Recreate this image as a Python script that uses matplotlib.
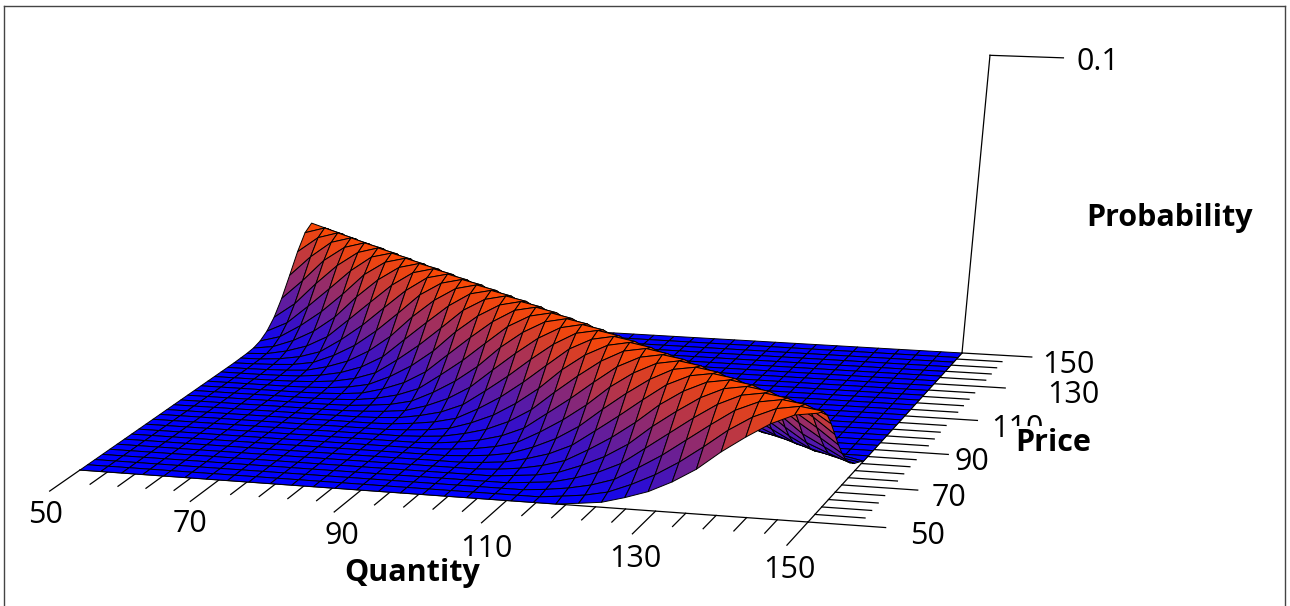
import matplotlib
matplotlib.use('Agg')
import matplotlib.pyplot as plt
import numpy as np
from matplotlib.colors import LinearSegmentedColormap

# mesh of the surface
quantity = np.linspace(50, 150, 34)
price = np.linspace(50, 150, 34)

# cross sections of the ridge (units of 0.0001), read at 11 stations along it,
# one column per unit away from the line quantity + price = 200
peak = 325
cross_sections = [
    [323, 316, 305, 290, 272, 252, 230, 206, 183, 160, 138, 117, 98, 81, 66, 53, 42, 33, 25, 19, 14, 11, 8, 5, 4, 3, 2, 1, 1, 1],
    [323, 317, 306, 292, 276, 257, 236, 214, 191, 169, 147, 127, 108, 90, 75, 61, 49, 39, 31, 24, 18, 14, 11, 7, 6, 4, 3, 2, 1, 1],
    [323, 317, 308, 295, 280, 262, 242, 221, 200, 178, 157, 137, 118, 100, 84, 70, 57, 46, 37, 29, 23, 18, 14, 10, 8, 6, 4, 3, 2, 1],
    [323, 318, 309, 297, 283, 266, 247, 227, 207, 186, 165, 146, 127, 109, 93, 78, 65, 53, 43, 35, 28, 22, 17, 13, 10, 8, 6, 4, 3, 2],
    [323, 318, 310, 299, 286, 270, 252, 233, 214, 194, 174, 154, 136, 118, 102, 87, 73, 61, 50, 41, 33, 27, 21, 17, 13, 10, 8, 6, 4, 3],
    [323, 318, 311, 301, 288, 273, 256, 238, 220, 201, 181, 162, 144, 126, 110, 95, 81, 68, 57, 47, 39, 32, 25, 21, 16, 13, 10, 8, 5, 4],
    [324, 319, 312, 303, 291, 277, 261, 244, 226, 208, 189, 170, 152, 135, 119, 103, 89, 76, 64, 54, 45, 37, 30, 25, 20, 16, 12, 10, 7, 6],
    [324, 320, 313, 304, 292, 279, 264, 248, 231, 213, 195, 177, 159, 142, 126, 111, 96, 83, 71, 61, 51, 43, 35, 29, 24, 19, 15, 12, 9, 7],
    [324, 320, 314, 305, 294, 282, 268, 253, 236, 219, 202, 185, 167, 150, 134, 119, 104, 91, 79, 68, 57, 49, 41, 34, 28, 23, 19, 15, 12, 9],
    [324, 320, 314, 306, 296, 284, 271, 256, 240, 224, 208, 191, 174, 157, 141, 126, 111, 98, 86, 74, 63, 55, 46, 39, 32, 27, 22, 18, 15, 11],
    [324, 321, 315, 307, 298, 287, 274, 260, 245, 230, 214, 197, 181, 165, 149, 134, 119, 106, 93, 81, 70, 61, 52, 44, 37, 31, 26, 21, 18, 14],
]
quantity_ticks = np.arange(50, 151, 4)
price_ticks = np.arange(50, 151, 4)
quantity_labels = ['50', '70', '90', '110', '130', '150']
price_labels = ['50', '70', '90', '110', '130', '150']

W, H = 1290, 606
fig = plt.figure(figsize=(W / 100, H / 100), dpi=100, facecolor='white')
ax = fig.add_axes([0, (H - W) / 2 / H, 1, W / H], projection='3d')
ax.set_axis_off()
ax.computed_zorder = False

# camera: maps (q, p, height, 1) to image pixels, fitted on the floor corners
camera = np.array([
    [682.5, 258.7, 29.7, 80.0],
    [22.6, -117.9, -316.0, 470.0],
    [0.0, 0.0, 0.0, -1.0],
    [-0.05634, 0.11787, 0.0, 1.0],
])
unit = np.array([
    [0.01, 0, 0, -0.5],
    [0, 0.01, 0, -0.5],
    [0, 0, 10, 0],
    [0, 0, 0, 1.0],
])
inv = ax.transData.inverted()
p0 = inv.transform((0, H))
p1 = inv.transform((W, 0))
view = np.array([
    [(p1[0] - p0[0]) / W, 0, 0, p0[0]],
    [0, (p1[1] - p0[1]) / H, 0, p0[1]],
    [0, 0, 1, 0],
    [0, 0, 0, 1.0],
])
proj = view @ camera @ unit
ax.get_proj = lambda: proj

# fill the mesh from the station table
Z = np.zeros((len(quantity), len(price)))
for i, q in enumerate(quantity):
    section = [peak] + cross_sections[round((q - 50) / 10)]
    for j, p in enumerate(price):
        off = round(abs(q + p - 200))
        if off < len(section):
            Z[i, j] = section[off] / 10000
X, Y = np.meshgrid(quantity, price, indexing='ij')

cmap = LinearSegmentedColormap.from_list('blue_orange', ['#0000ff', '#ff4a00'])
cell = Z.copy()
cell[:-1, :-1] = (Z[:-1, :-1] + Z[1:, :-1] + Z[:-1, 1:] + Z[1:, 1:]) / 4
colors = cmap(cell / Z.max())

surf = ax.plot_surface(X, Y, Z, facecolors=colors, rstride=1, cstride=1, shade=False, zorder=2)
surf.set_edgecolor('black')
surf.set_linewidth(0.7)

line = dict(color='black', lw=0.9, zorder=1)
ax.plot([50, 150], [50, 50], [0, 0], **line)
ax.plot([150, 150], [50, 150], [0, 0], **line)
ax.plot([150, 150], [150, 150], [0, 0.1], **line)
ax.plot([150, 160.5], [150, 150], [0.1, 0.1], **line)

for q in quantity_ticks:
    length = 12 if (q - 50) % 20 == 0 else 7
    ax.plot([q, q], [50, 50 - length], [0, 0], **line)
for p in price_ticks:
    length = 10 if (p - 50) % 20 == 0 else 6.5
    ax.plot([150, 150 + length], [p, p], [0, 0], **line)


def label(x, y, s, **kw):
    return fig.text(x / W, 1 - y / H, s, ha='center', va='center', family='Open Sans', **kw)


for x, y, s in zip([46, 190, 342, 486, 635, 789], [515, 524, 536, 549, 559, 570], quantity_labels):
    label(x, y, s, fontsize=22, zorder=4)
for x, y, s in zip([927, 949, 972, 1017, 1073, 1068], [536, 498, 462, 429, 395, 365], price_labels):
    label(x, y, s, fontsize=22, zorder=4)
label(1098, 62, '0.1', fontsize=22, zorder=4)

bold = dict(fontsize=22, fontweight='bold', zorder=5,
            bbox=dict(facecolor='white', edgecolor='none', pad=1))
label(412, 573, 'Quantity', **bold)
label(1053, 443, 'Price', **bold)
label(1170, 218, 'Probability', **bold)

frame = dict(color='#444444', lw=1, transform=fig.transFigure)
fig.add_artist(plt.Line2D([4 / W, 4 / W], [0, 1 - 6 / H], **frame))
fig.add_artist(plt.Line2D([4 / W, 1285 / W], [1 - 6 / H, 1 - 6 / H], **frame))
fig.add_artist(plt.Line2D([1285 / W, 1285 / W], [0, 1 - 6 / H], **frame))

fig.savefig('out.png', dpi=100)
